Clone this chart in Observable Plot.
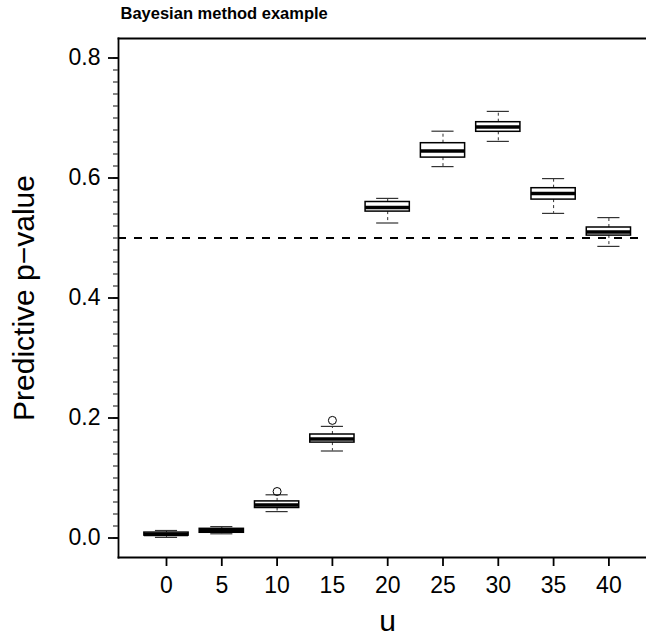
<!DOCTYPE html>
<html><head><meta charset="utf-8">
<script src="https://cdn.jsdelivr.net/npm/d3@7"></script>
<script src="https://cdn.jsdelivr.net/npm/@observablehq/plot@0.6"></script>
<style>body{margin:0;background:#fff;overflow:hidden} svg{display:block}</style>
</head><body><div id="chart"></div>
<script>
const title = "Bayesian method example";
const xLabel = "u";
const yLabel = "Predictive p\u2212value";
const u      = [0,      5,      10,    15,     20,    25,    30,    35,    40];
const lower  = [0.001,  0.007,  0.044, 0.145,  0.525, 0.619, 0.661, 0.541, 0.486];
const q1     = [0.004,  0.0087, 0.050, 0.159,  0.544, 0.634, 0.677, 0.564, 0.504];
const median = [0.006,  0.0125, 0.055, 0.165,  0.551, 0.645, 0.685, 0.574, 0.510];
const q3     = [0.009,  0.0153, 0.061, 0.1725, 0.560, 0.658, 0.693, 0.583, 0.5175];
const upper  = [0.0125, 0.019,  0.072, 0.186,  0.566, 0.678, 0.711, 0.599, 0.534];
const outlierU = [10, 15];
const outlierV = [0.0775, 0.196];
const refLine = [0.5];
const yMajorTicks = [0, 0.2, 0.4, 0.6, 0.8];
const yMinorTicks = d3.range(0, 41).map(i => i * 0.02);

const boxHalf = 2, stapleHalf = 1;
const boxes = u.map((d, i) => ({u: d, lo: lower[i], q1: q1[i], med: median[i], q3: q3[i], hi: upper[i]}));
const outliers = outlierU.map((d, i) => ({u: d, v: outlierV[i]}));
const font = "'Liberation Sans', Arial, Helvetica, sans-serif";

const chart = Plot.plot({
  width: 646, height: 639,
  marginLeft: 118, marginRight: 0, marginTop: 38, marginBottom: 82,
  style: {fontFamily: font, color: "#000", background: "#fff"},
  x: {domain: [-4.34, 43.4]},
  y: {domain: [-0.0325, 0.8325]},
  marks: [
    Plot.ruleY(refLine, {strokeDasharray: "8,8", strokeWidth: 2}),
    Plot.ruleX(boxes, {x: "u", y1: "q3", y2: "hi", strokeDasharray: "3,3", strokeWidth: 1, stroke: "#333"}),
    Plot.ruleX(boxes, {x: "u", y1: "q1", y2: "lo", strokeDasharray: "3,3", strokeWidth: 1, stroke: "#333"}),
    Plot.ruleY(boxes, {y: "hi", x1: d => d.u - stapleHalf, x2: d => d.u + stapleHalf, strokeWidth: 1.2, stroke: "#333"}),
    Plot.ruleY(boxes, {y: "lo", x1: d => d.u - stapleHalf, x2: d => d.u + stapleHalf, strokeWidth: 1.2, stroke: "#333"}),
    Plot.rect(boxes, {x1: d => d.u - boxHalf, x2: d => d.u + boxHalf, y1: "q1", y2: "q3", fill: "white", stroke: "black", strokeWidth: 1.5}),
    Plot.ruleY(boxes, {y: "med", x1: d => d.u - boxHalf, x2: d => d.u + boxHalf, strokeWidth: 3.5, stroke: "black"}),
    Plot.dot(outliers, {x: "u", y: "v", r: 4, stroke: "black", fill: "none", strokeWidth: 1}),
    Plot.frame({anchor: "top", strokeWidth: 1.8}),
    Plot.frame({anchor: "bottom", strokeWidth: 1.8}),
    Plot.frame({anchor: "left", strokeWidth: 1.8}),
    Plot.axisY({ticks: yMinorTicks, tickSize: 5, tickFormat: () => "", label: null, strokeWidth: 1.3, stroke: "#444"}),
    Plot.axisY({ticks: yMajorTicks, tickSize: 10, tickPadding: 8, tickFormat: d3.format(".1f"), fontSize: 23, strokeWidth: 1.8, label: null}),
    Plot.axisX({ticks: u, tickSize: 9, tickPadding: 10, tickFormat: d => String(d), fontSize: 23, strokeWidth: 1.8, label: null}),
    Plot.text([xLabel], {x: () => d3.mean(u), frameAnchor: "bottom", dy: 73, lineAnchor: "bottom", fontSize: 30}),
    Plot.text([yLabel], {frameAnchor: "left", dx: -94, rotate: -90, textAnchor: "middle", fontSize: 30}),
    Plot.text([title], {frameAnchor: "top-left", dx: 2, dy: -19.5, lineAnchor: "bottom", textAnchor: "start", fontSize: 16.5, fontWeight: "bold"})
  ]
});
document.getElementById("chart").append(chart);
</script>
</body></html>
